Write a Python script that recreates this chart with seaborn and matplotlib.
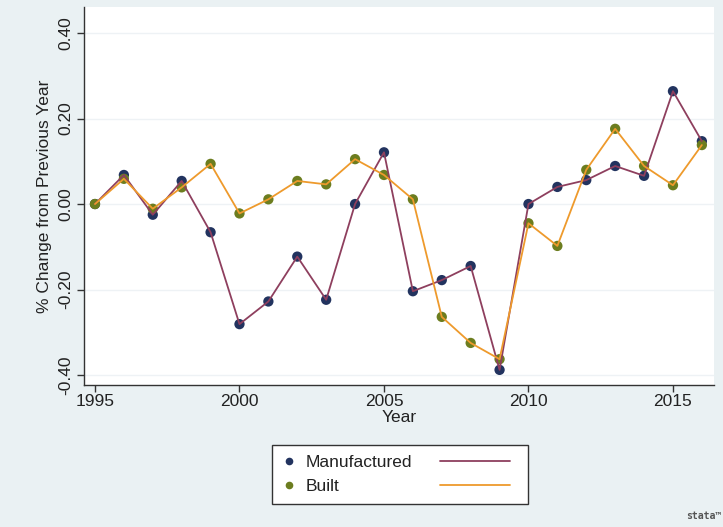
import matplotlib
matplotlib.use("Agg")
import matplotlib.pyplot as plt
from matplotlib.lines import Line2D
from matplotlib.legend_handler import HandlerLine2D
import numpy as np
import pandas as pd
import seaborn as sns

# ---- data ----
years = list(range(1995, 2017))
manufactured = [0.000, 0.068, -0.025, 0.054, -0.066, -0.281, -0.228, -0.123, -0.224, 0.000,
                0.121, -0.204, -0.178, -0.145, -0.388, 0.000, 0.040, 0.056, 0.089, 0.066,
                0.264, 0.147]
built = [0.000, 0.059, -0.011, 0.039, 0.094, -0.022, 0.011, 0.054, 0.046, 0.105,
         0.068, 0.011, -0.264, -0.325, -0.363, -0.045, -0.098, 0.080, 0.176, 0.089,
         0.044, 0.138]
series_names = ["Manufactured", "Built"]
x_ticks = [1995, 2000, 2005, 2010, 2015]
y_ticks = [-0.40, -0.20, 0.00, 0.20, 0.40]

df = pd.DataFrame({
    "Year": years * 2,
    "Change": manufactured + built,
    "Series": [series_names[0]] * len(years) + [series_names[1]] * len(years),
})

marker_colors = {"Manufactured": "#22335f", "Built": "#6c7d1f"}
line_colors = {"Manufactured": "#8e3f5e", "Built": "#ee9a2c"}

sns.set_theme(style="white")
plt.rcParams["font.family"] = ["Liberation Sans", "DejaVu Sans"]
plt.rcParams["axes.unicode_minus"] = False

bg = "#eaf1f3"
fig = plt.figure(figsize=(7.23, 5.27), dpi=100, facecolor=bg)
ax = fig.add_axes([84 / 723, 1 - 385 / 527, (714 - 84) / 723, (385 - 7) / 527])
ax.set_facecolor("white")

for yv in y_ticks:
    ax.axhline(yv, color="#eef2f5", lw=1.0, zorder=0)

sns.scatterplot(data=df, x="Year", y="Change", hue="Series", palette=marker_colors,
                hue_order=series_names, s=55, edgecolor="none", linewidth=0,
                legend=False, ax=ax, zorder=2)
sns.lineplot(data=df, x="Year", y="Change", hue="Series", palette=line_colors,
             hue_order=series_names, lw=1.3, legend=False, ax=ax, zorder=3)

ax.set_xlim(1994.62, 2016.42)
ax.set_ylim(-0.4234, 0.461)
ax.set_xticks(x_ticks)
ax.set_yticks(y_ticks)
ax.set_yticklabels([f"{v:.2f}" for v in y_ticks], rotation=90, va="center")
ax.tick_params(axis="both", which="both", direction="out", length=5, width=1,
               color="#333333", labelsize=12.5, labelcolor="#222222",
               left=True, bottom=True)
ax.tick_params(axis="y", pad=3)
ax.tick_params(axis="x", pad=1.5)

for side in ["top", "right"]:
    ax.spines[side].set_visible(False)
for side in ["left", "bottom"]:
    ax.spines[side].set_color("#333333")
    ax.spines[side].set_linewidth(1.0)

ax.set_xlabel("Year", fontsize=12.5, color="#222222", labelpad=0.5)
ax.set_ylabel("% Change from Previous Year", fontsize=12.5, color="#222222", labelpad=4)


class LongLine(HandlerLine2D):
    def legend_artist(self, legend, orig_handle, fontsize, handlebox):
        handlebox.width = 70 / (100 / 72)
        return super().legend_artist(legend, orig_handle, fontsize, handlebox)


mk_handles = [Line2D([], [], marker="o", ls="none", ms=5.5, mec="none",
                     color=marker_colors[s]) for s in series_names]
ln_handles = [Line2D([], [], color=line_colors[s], lw=1.3) for s in series_names]
hmap = {h: LongLine() for h in ln_handles}
leg = fig.legend(mk_handles + ln_handles, series_names + ["", ""], ncol=2,
                 loc="center", bbox_to_anchor=(400 / 723, 1 - 474.5 / 527),
                 fontsize=12.5, frameon=True, fancybox=False, framealpha=1,
                 edgecolor="#333333", facecolor="white", handlelength=0.9,
                 handletextpad=0.5, columnspacing=1.6, labelspacing=0.55,
                 borderpad=0.55, borderaxespad=0, handler_map=hmap)
leg.get_frame().set_linewidth(1.0)
for t in leg.get_texts():
    t.set_color("#222222")

fig.text(0.998, 0.012, "stata\u2122", ha="right", va="bottom", fontsize=7,
         color="#555555", family=["DejaVu Sans Mono"], fontweight="bold")

fig.savefig("out.png", dpi=100, facecolor=bg)
